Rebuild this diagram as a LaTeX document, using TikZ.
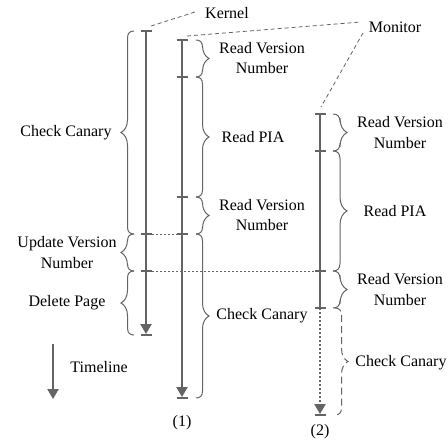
\documentclass[tikz,border=0pt]{standalone}
\usepackage{fontspec}
\setmainfont{Liberation Serif}
\usetikzlibrary{arrows.meta}
\definecolor{lc}{RGB}{100,100,100}
% #1 style, #2 x, #3 top y, #4 bottom y, #5 signed amplitude (+ bulges right)
\newcommand\mybrace[5]{%
  \pgfmathsetmacro\brmid{(#3+#4)/2}%
  \pgfmathsetmacro\bra{abs(#5)}%
  \draw[#1] (#2,#3) .. controls ({#2+0.3*#5},{#3}) and ({#2+0.5*#5},{#3+0.15*\bra}) .. ({#2+0.5*#5},{#3+0.55*\bra})
    -- ({#2+0.5*#5},{\brmid-\bra}) .. controls ({#2+0.5*#5},{\brmid-0.5*\bra}) and ({#2+0.7*#5},{\brmid-0.15*\bra}) .. ({#2+#5},\brmid)
    .. controls ({#2+0.7*#5},{\brmid+0.15*\bra}) and ({#2+0.5*#5},{\brmid+0.5*\bra}) .. ({#2+0.5*#5},{\brmid+\bra})
    -- ({#2+0.5*#5},{#4-0.55*\bra}) .. controls ({#2+0.5*#5},{#4-0.15*\bra}) and ({#2+0.3*#5},{#4}) .. (#2,#4);}
\begin{document}
\begin{tikzpicture}[x=1pt,y=-1pt,
  tl/.style={draw=lc, line width=1.6pt},
  tick/.style={draw=lc, line width=1.4pt},
  head/.style={fill=lc},
  br/.style={draw=lc, line width=1pt},
  dbr/.style={br, dash pattern=on 7pt off 4pt},
  lab/.style={font=\fontsize{16}{20.5}\selectfont, align=center, inner sep=0pt},
  guide/.style={draw=lc, line width=0.8pt, dash pattern=on 4pt off 3pt},
  dotl/.style={draw=lc, line width=0.9pt, dash pattern=on 1.5pt off 2.5pt},
  dotv/.style={draw=lc, line width=1.6pt, dash pattern=on 2pt off 2pt}
]
\path[use as bounding box] (0,0) rectangle (448,445);

% kernel timeline
\coordinate (K0) at (146,31);
\coordinate (K1) at (146,234);
\coordinate (K2) at (146,271);
\coordinate (K3) at (146,335);
\coordinate (Ke) at (146,334);
\draw[tl] (K0) -- ([yshift=8pt]Ke);
\fill[head] (Ke) -- ++(-5.8,-10) -- ++(11.6,0) -- cycle;
\foreach \c in {K0,K1,K2,K3} \draw[tick] ([xshift=-5.5pt]\c) -- ([xshift=5.5pt]\c);

% timeline (1)
\coordinate (A0) at (182,40);
\coordinate (A1) at (182,77);
\coordinate (A2) at (182,197);
\coordinate (A3) at (182,234);
\coordinate (A4) at (182,398);
\coordinate (Ae) at (182,397);
\draw[tl] (A0) -- ([yshift=8pt]Ae);
\fill[head] (Ae) -- ++(-5.8,-10) -- ++(11.6,0) -- cycle;
\foreach \c in {A0,A1,A2,A3,A4} \draw[tick] ([xshift=-5.5pt]\c) -- ([xshift=5.5pt]\c);

% timeline (2)
\coordinate (B0) at (320,114);
\coordinate (B1) at (320,151);
\coordinate (B2) at (320,271);
\coordinate (B3) at (320,308);
\coordinate (B4) at (320,415);
\coordinate (Be) at (320,414);
\draw[tl] (B0) -- (B3);
\draw[dotv] (B3) -- ([yshift=9pt]Be);
\fill[head] (Be) -- ++(-5.8,-10) -- ++(11.6,0) -- cycle;
\foreach \c in {B0,B1,B2,B3,B4} \draw[tick] ([xshift=-5.5pt]\c) -- ([xshift=5.5pt]\c);

% dotted horizontal links
\coordinate (d1a) at (152,234); \coordinate (d1b) at (177,234);
\coordinate (d2a) at (152,271); \coordinate (d2b) at (314,271);
\draw[dotl] (d1a) -- (d1b);
\draw[dotl] (d2a) -- (d2b);

% kernel braces
\mybrace{br}{134}{31}{234}{-13}
\mybrace{br}{134}{234}{271}{-13}
\mybrace{br}{134}{271}{335}{-13}
\node[lab] (kc) at (66,133) {Check Canary};
\node[lab] (ku) at (67,252.5) {Update Version\\Number};
\node[lab] (kd) at (67,303) {Delete Page};

% braces (1)
\mybrace{br}{196}{40}{77}{13}
\mybrace{br}{196}{77}{197}{13}
\mybrace{br}{196}{197}{234}{13}
\mybrace{br}{196}{234}{398}{13}
\node[lab] (a1) at (262,58) {Read Version\\Number};
\node[lab] (a2) at (253,137) {Read PIA};
\node[lab] (a3) at (262,215) {Read Version\\Number};
\node[lab] (a4) at (262,316) {Check Canary};

% braces (2)
\mybrace{br}{333}{114}{151}{14}
\mybrace{br}{333}{151}{271}{14}
\mybrace{br}{333}{271}{308}{14}
\mybrace{dbr}{335}{308}{415}{13}
\node[lab] (b1) at (400,132.5) {Read Version\\Number};
\node[lab] (b2) at (395,211) {Read PIA};
\node[lab] (b3) at (400,289.5) {Read Version\\Number};
\node[lab] (b4) at (401,363) {Check Canary};

% titles and guides
\node[lab] (kern) at (227,13) {Kernel};
\node[lab] (mon) at (395,27) {Monitor};
\coordinate (g1a) at (151,26); \coordinate (g1b) at (195,12);
\coordinate (g2a) at (187,36); \coordinate (g2b) at (361,22);
\coordinate (g3a) at (363,33); \coordinate (g3b) at (321,107);
\draw[guide] (g1a) -- (g1b);
\draw[guide] (g2a) -- (g2b);
\draw[guide] (g3a) -- (g3b);

% legend
\coordinate (t0) at (53,344); \coordinate (t1) at (53,399);
\draw[tl] (t0) -- ([yshift=8pt]t1);
\fill[head] (t1) -- ++(-5.8,-10) -- ++(11.6,0) -- cycle;
\node[lab] (tl) at (99,367) {Timeline};
\node[lab] (n1) at (182,423) {(1)};
\node[lab] (n2) at (320,432) {(2)};
\end{tikzpicture}
\end{document}
